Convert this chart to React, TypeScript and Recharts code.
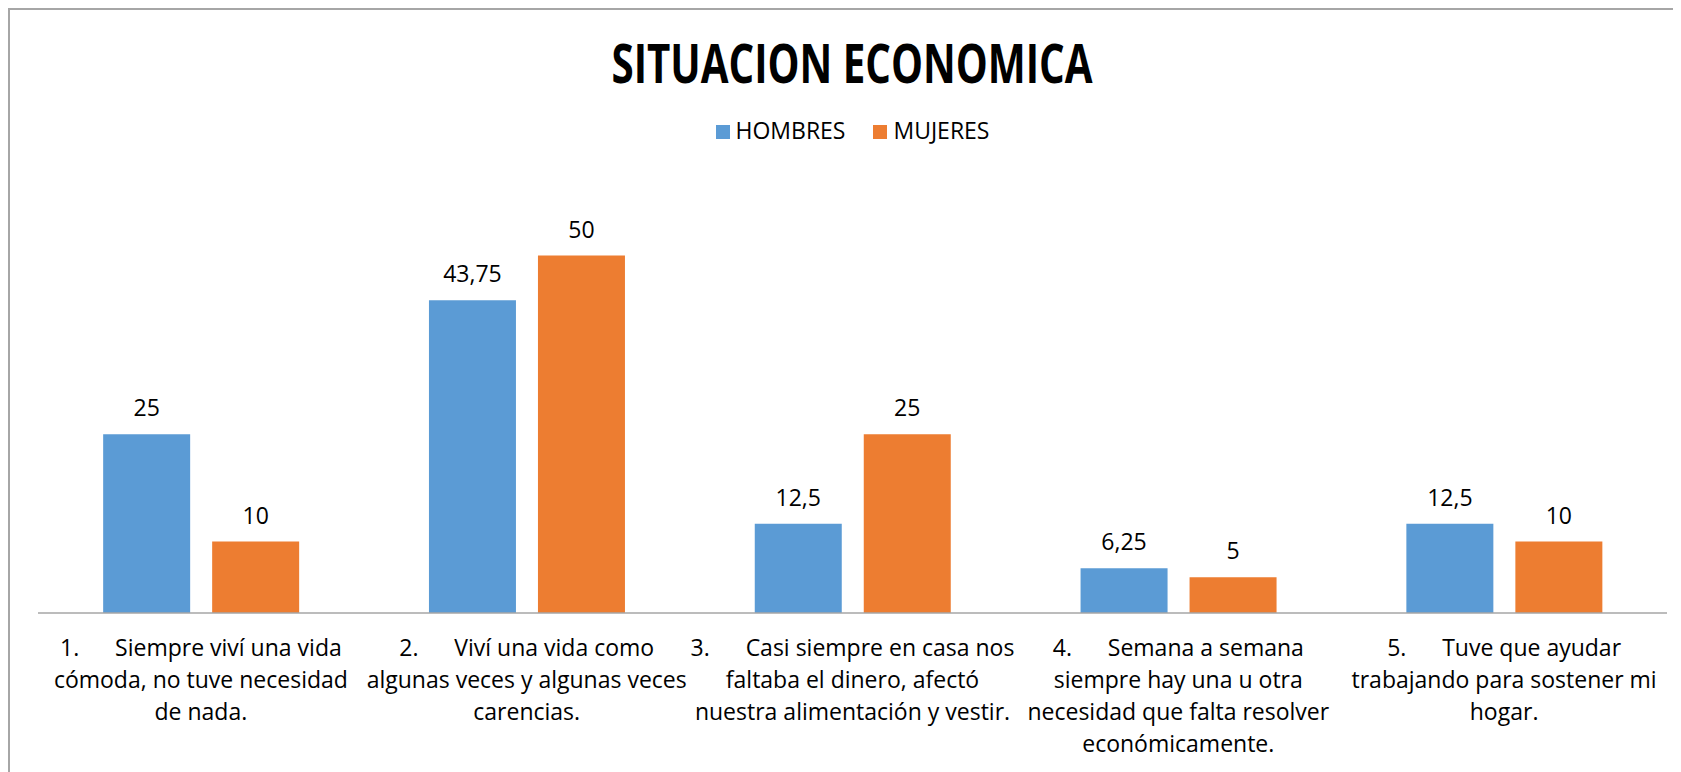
import { BarChart, Bar, XAxis, YAxis, LabelList } from "recharts"

const categories = [
  "1.\tSiempre viví una vida\ncómoda, no tuve necesidad\nde nada.",
  "2.\tViví una vida como\nalgunas veces y algunas veces\ncarencias.",
  "3.\tCasi siempre en casa nos\nfaltaba el dinero, afectó\nnuestra alimentación y vestir.",
  "4.\tSemana a semana\nsiempre hay una u otra\nnecesidad que falta resolver\neconómicamente.",
  "5.\tTuve que ayudar\ntrabajando para sostener mi\nhogar.",
]
const hombres = [25, 43.75, 12.5, 6.25, 12.5]
const mujeres = [10, 50, 25, 5, 10]

const series = [
  { key: "HOMBRES", color: "#5B9BD5" },
  { key: "MUJERES", color: "#ED7D31" },
]

const data = categories.map((name, i) => ({
  name,
  HOMBRES: hombres[i],
  MUJERES: mujeres[i],
}))

const font = "'Open Sans', sans-serif"
const fmt = (v: any) => String(v).replace(".", ",")

const CategoryTick = (props: any) => {
  const { x, y, payload } = props
  const lines = String(payload.value).split("\n")
  return (
    <text x={x} y={y + 43} textAnchor="middle" fontFamily={font} fontSize={23} fill="#000" style={{ whiteSpace: "pre" }}>
      {lines.map((l, i) => (
        <tspan key={i} x={x} dy={i === 0 ? 0 : 32}>
          {l.replace("\t", "\u00a0\u00a0\u00a0\u00a0\u00a0\u00a0")}
        </tspan>
      ))}
    </text>
  )
}

export default function App() {
  return (
    <div style={{ position: "relative", width: 1673, height: 764 }}>
      <div style={{ position: "absolute", inset: 0, borderTop: "2px solid #a6a6a6", borderLeft: "2px solid #a6a6a6", pointerEvents: "none" }} />
      <svg width={1673} height={120} style={{ position: "absolute", left: 0, top: 0 }}>
        <text x={844} y={75} textAnchor="middle" fontFamily={font} fontWeight={700} fontSize={53} textLength={481} lengthAdjust="spacingAndGlyphs">
          SITUACION ECONOMICA
        </text>
      </svg>
      <div style={{ position: "absolute", top: 111, left: 30, width: 1629, display: "flex", justifyContent: "center", gap: 28, fontFamily: font, fontSize: 23, lineHeight: "23px" }}>
        {series.map((s) => (
          <div key={s.key} style={{ display: "flex", alignItems: "flex-end" }}>
            <span style={{ width: 14, height: 14, background: s.color, marginRight: 6, marginBottom: 3 }} />
            <span>{s.key}</span>
          </div>
        ))}
      </div>
      <BarChart width={1673} height={764} data={data} margin={{ top: 176, right: 14, left: 30, bottom: 0 }} barCategoryGap="20%" barGap={22}>
        <XAxis dataKey="name" height={159} interval={0} tickLine={false} tickSize={0} tickMargin={0} axisLine={{ stroke: "#a6a6a6", strokeWidth: 1.5 }} tick={<CategoryTick />} />
        <YAxis hide domain={[0, 60]} />
        {series.map((s) => (
          <Bar key={s.key} dataKey={s.key} fill={s.color} isAnimationActive={false}>
            <LabelList dataKey={s.key} position="top" offset={18} formatter={fmt} fill="#000" fontSize={23} fontFamily={font} />
          </Bar>
        ))}
      </BarChart>
    </div>
  )
}
